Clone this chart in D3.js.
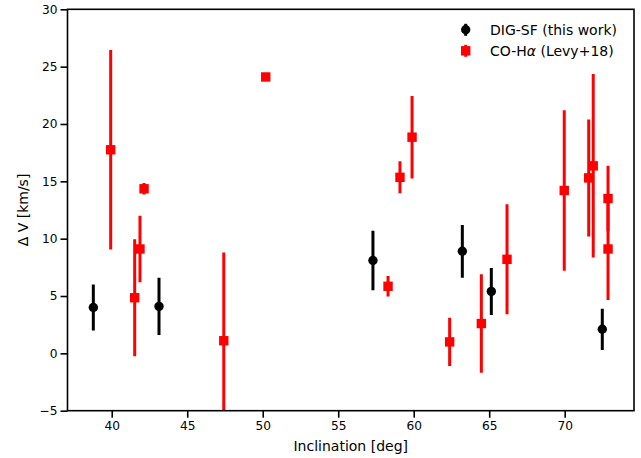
<!DOCTYPE html>
<html><head><meta charset="utf-8">
<script src="https://cdn.jsdelivr.net/npm/d3@7"></script>
<style>body{margin:0;background:#fff}svg{display:block}text{font-family:"DejaVu Sans",sans-serif;}</style>
</head><body>
<script>
// DIG-SF (this work)
const digIncl = [38.78, 43.13, 57.3, 63.22, 65.14, 72.49];
const digDV   = [4.0, 4.1, 8.1, 8.9, 5.4, 2.1];
const digErr  = [2.0, 2.5, 2.6, 2.3, 2.05, 1.8];
// CO-Halpha (Levy+18)
const coIncl = [39.93, 41.52, 41.87, 42.14, 47.42, 50.2, 58.3, 59.09, 59.89, 62.38, 64.48, 66.18, 69.97, 71.59, 71.89, 72.87, 72.87];
const coDV   = [17.75, 4.85, 9.1, 14.35, 1.1, 24.1, 5.85, 15.35, 18.85, 1.0, 2.6, 8.2, 14.2, 15.3, 16.35, 13.5, 9.1];
const coErr  = [8.7, 5.1, 2.9, 0.5, 7.7, 0.2, 0.9, 1.4, 3.6, 2.1, 4.3, 4.8, 7.0, 5.1, 8.0, 2.85, 4.45];
const xTicks = [40, 45, 50, 55, 60, 65, 70];
const yTicks = [-5, 0, 5, 10, 15, 20, 25, 30];
const legendLabels = [["DIG-SF (this work)", "", ""], ["CO-H", "\u03b1", " (Levy+18)"]];

const W = 641, H = 458;
const m = {left: 67.5, right: 634, top: 9.3, bottom: 410.7};
const svg = d3.select("body").append("svg").attr("width", W).attr("height", H);
const x = d3.scaleLinear().domain([37.07, 74.59]).range([m.left, m.right]);
const y = d3.scaleLinear().domain([-5, 30]).range([m.bottom, m.top]);
const fsTick = 12.2, fsLab = 14;

svg.append("defs").append("clipPath").attr("id", "clip")
  .append("rect").attr("x", m.left).attr("y", m.top).attr("width", m.right - m.left).attr("height", m.bottom - m.top);

const plot = svg.append("g").attr("clip-path", "url(#clip)");

function drawSeries(xs, ys, es, color, shape) {
  const data = xs.map((d, i) => ({x: d, y: ys[i], e: es[i]}));
  plot.selectAll(null).data(data).enter().append("line")
    .attr("x1", d => x(d.x)).attr("x2", d => x(d.x))
    .attr("y1", d => y(d.y - d.e)).attr("y2", d => y(d.y + d.e))
    .attr("stroke", color).attr("stroke-width", 3);
  if (shape === "circle") {
    plot.selectAll(null).data(data).enter().append("circle")
      .attr("cx", d => x(d.x)).attr("cy", d => y(d.y)).attr("r", 4.7).attr("fill", color);
  } else {
    plot.selectAll(null).data(data).enter().append("rect")
      .attr("x", d => x(d.x) - 4.7).attr("y", d => y(d.y) - 4.7)
      .attr("width", 9.4).attr("height", 9.4).attr("fill", color);
  }
}
drawSeries(coIncl, coDV, coErr, "#ff0000", "square");
drawSeries(digIncl, digDV, digErr, "#000000", "circle");

// axes
const xAxis = svg.append("g").attr("transform", `translate(0,${m.bottom})`)
  .call(d3.axisBottom(x).tickValues(xTicks).tickSize(7).tickPadding(3.5).tickFormat(d3.format("d")));
const yAxis = svg.append("g").attr("transform", `translate(${m.left},0)`)
  .call(d3.axisLeft(y).tickValues(yTicks).tickSize(7).tickPadding(3).tickFormat(d => d < 0 ? "\u2212" + Math.abs(d) : d));
[xAxis, yAxis].forEach(a => {
  a.select(".domain").remove();
  a.selectAll(".tick line").attr("stroke", "#000").attr("stroke-width", 1.6);
  a.selectAll(".tick text").attr("fill", "#000").style("font-size", fsTick + "px").style("font-family", "DejaVu Sans");
});
svg.append("rect").attr("x", m.left).attr("y", m.top).attr("width", m.right - m.left).attr("height", m.bottom - m.top)
  .attr("fill", "none").attr("stroke", "#000").attr("stroke-width", 1.6);

svg.append("text").attr("x", (m.left + m.right) / 2).attr("y", 451).attr("text-anchor", "middle")
  .style("font-size", fsLab + "px").text("Inclination [deg]");
svg.append("text").attr("transform", `translate(28,${(m.top + m.bottom) / 2}) rotate(-90)`).attr("text-anchor", "middle")
  .style("font-size", fsLab + "px").text("\u0394 V [km/s]");

// legend
const leg = svg.append("g");
const lx = 465.7, ly = [29.8, 50.8];
leg.append("line").attr("x1", lx).attr("x2", lx).attr("y1", ly[0] - 6).attr("y2", ly[0] + 6).attr("stroke", "#000").attr("stroke-width", 3);
leg.append("circle").attr("cx", lx).attr("cy", ly[0]).attr("r", 4.7).attr("fill", "#000");
leg.append("line").attr("x1", lx).attr("x2", lx).attr("y1", ly[1] - 6).attr("y2", ly[1] + 6).attr("stroke", "#ff0000").attr("stroke-width", 3);
leg.append("rect").attr("x", lx - 4.7).attr("y", ly[1] - 4.7).attr("width", 9.4).attr("height", 9.4).attr("fill", "#ff0000");
legendLabels.forEach((t, i) => {
  const tx = leg.append("text").attr("x", 490).attr("y", ly[i]).attr("dy", "0.35em").style("font-size", fsLab + "px");
  tx.append("tspan").text(t[0]);
  if (t[1]) tx.append("tspan").style("font-style", "italic").text(t[1]);
  if (t[2]) tx.append("tspan").text(t[2]);
});
</script>
</body></html>
